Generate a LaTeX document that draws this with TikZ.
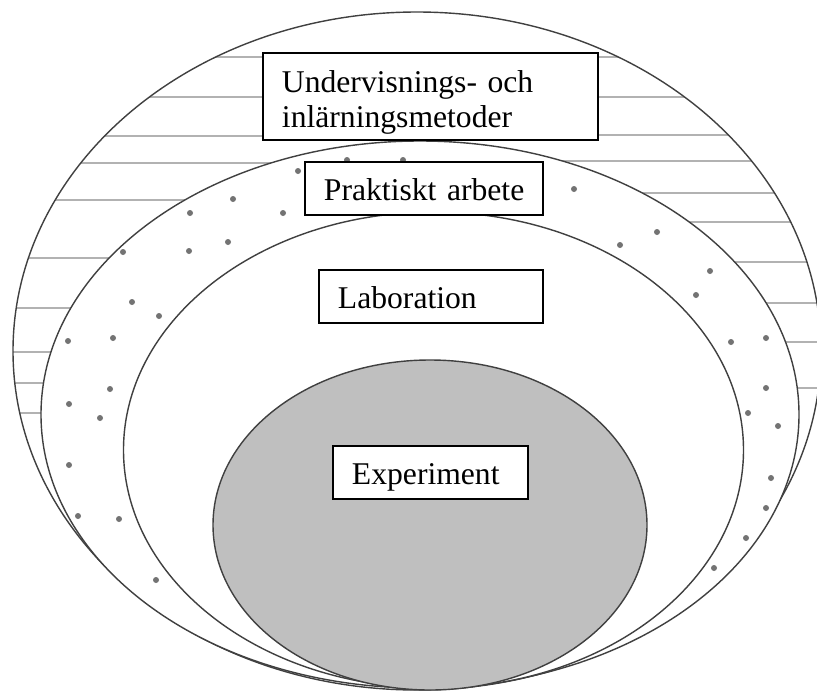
\documentclass[tikz,border=0pt]{standalone}
\usepackage{fontspec}
\setmainfont{Liberation Serif}
\tikzset{
  ring/.style={draw=black!75, line width=1pt},
  hatch/.style={black!30, line width=1pt},
  spot/.style={fill=black!55},
  levelbox/.style={draw=black, line width=1pt, fill=white, align=left,
    inner xsep=0.475cm, inner ysep=0pt, minimum height=1.325cm,
    text height=0.65cm, text depth=0.075cm,
    font=\fontsize{22.5pt}{25.6pt}\selectfont}
}
\begin{document}
\begin{tikzpicture}[x=0.025cm,y=-0.025cm]
\useasboundingbox (0,0) rectangle (817,691);
% hatched band, left and right half
\begin{scope}
  \clip (417,351) ellipse [x radius=404, y radius=339];
  \clip (0,0) rectangle (419,691);
  \foreach \y in {57,97,136,163,200,258,308,352,383,413}
    \draw[hatch] (0,\y) -- (419,\y);
\end{scope}
\begin{scope}
  \clip (417,351) ellipse [x radius=404, y radius=339];
  \clip (419,0) rectangle (817,691);
  \foreach \y in {57,97,135,161,193,222,262,303,342,388}
    \draw[hatch] (419,\y) -- (817,\y);
\end{scope}
\draw[ring] (417,351) ellipse [x radius=404, y radius=339];
% dotted band
\draw[ring, fill=white] (420,414.5) ellipse [x radius=379, y radius=273.5];
\foreach \x/\y in {347/160,403/160,298/171,233/199,190/213,283/213,228/242,123/252,
  189/251,132/302,159/316,68/341,113/338,110/389,69/404,100/418,69/465,78/516,
  119/519,156/580,574/189,657/232,620/245,710/271,696/295,731/342,766/338,
  766/388,748/413,778/426,771/478,766/508,746/538,714/568}
  \fill[spot] (\x,\y) circle [radius=3];
\draw[ring, fill=white] (433.5,450) ellipse [x radius=310, y radius=238];
\draw[ring, fill=black!25] (430,525) ellipse [x radius=217, y radius=165];

\node[levelbox, text width=7.425cm, minimum height=2.175cm,
  text height=0.85cm, text depth=1.075cm] (metoder) at (430.5,96.5)
  {Undervisnings- och\\inlärningsmetoder};
\node[levelbox, text width=5cm] (praktiskt) at (424,188.5) {\mbox{Praktiskt arbete}};
\node[levelbox, text width=4.65cm] (laboration) at (431,296.5) {Laboration};
\node[levelbox, text width=3.925cm] (experiment) at (430.5,472.5) {Experiment};
\end{tikzpicture}
\end{document}
